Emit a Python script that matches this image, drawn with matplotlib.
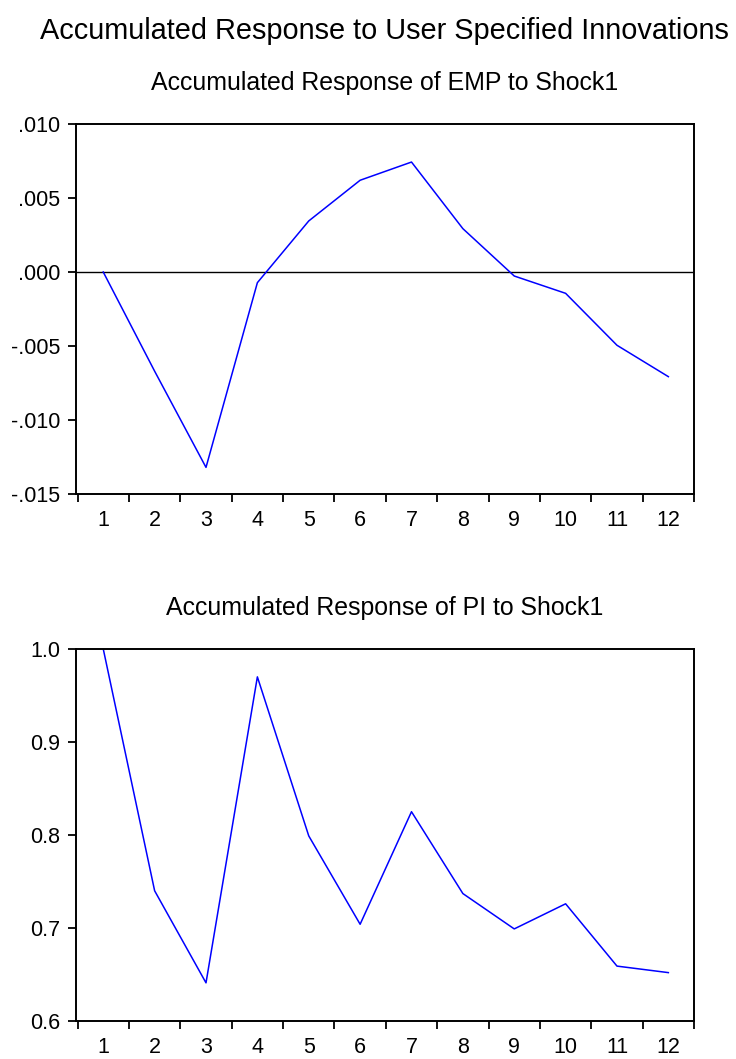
import matplotlib
matplotlib.use("Agg")
import matplotlib.pyplot as plt
from matplotlib.ticker import FixedLocator, NullFormatter

plt.rcParams['font.family'] = ['Liberation Sans', 'DejaVu Sans']

periods = list(range(1, 13))
period_labels = [str(p) for p in periods]
emp_response = [0.0, -0.0067, -0.0132, -0.00072, 0.00345, 0.0062,
                0.00743, 0.00293, -0.00027, -0.00144, -0.00495, -0.00707]
pi_response = [1.0, 0.740, 0.641, 0.970, 0.799, 0.704,
               0.825, 0.737, 0.699, 0.726, 0.659, 0.652]
emp_yticks = [-0.015, -0.010, -0.005, 0.000, 0.005, 0.010]
emp_yticklabels = ['-.015', '-.010', '-.005', '.000', '.005', '.010']
pi_yticks = [0.6, 0.7, 0.8, 0.9, 1.0]
pi_yticklabels = ['0.6', '0.7', '0.8', '0.9', '1.0']

main_title = "Accumulated Response to User Specified Innovations"
title_emp = "Accumulated Response of EMP to Shock1"
title_pi = "Accumulated Response of PI to Shock1"

fig = plt.figure(figsize=(7.36, 10.59), dpi=100)
fig.text(0.522, 1 - 39 / 1059, main_title, ha='center', va='baseline', fontsize=20.8)

ax1 = fig.add_axes([0.1033, 0.5335, 0.8397, 0.3494])
ax2 = fig.add_axes([0.1033, 0.0359, 0.8397, 0.3513])


def style(ax, y, yticks, yticklabels, ylim, title):
    ax.plot(periods, y, color='#0000ff', lw=1.1)
    ax.set_xlim(0.47, 12.5)
    ax.set_ylim(*ylim)
    ax.set_xticks(periods)
    ax.set_xticklabels(period_labels, fontsize=15.5)
    ax.xaxis.set_minor_locator(FixedLocator([p + 0.5 for p in [0] + periods]))
    ax.xaxis.set_minor_formatter(NullFormatter())
    ax.tick_params(axis='x', which='major', length=0, pad=11.5)
    ax.tick_params(axis='x', which='minor', length=5.5, width=1.3, direction='out')
    ax.set_yticks(yticks)
    ax.set_yticklabels(yticklabels, fontsize=15.5)
    ax.tick_params(axis='y', length=5.5, width=1.3, direction='out', pad=6)
    for s in ax.spines.values():
        s.set_linewidth(1.4)
    ax.set_title(title, fontsize=17.9, pad=24.5)


style(ax1, emp_response, emp_yticks, emp_yticklabels, (-0.015, 0.010), title_emp)
ax1.axhline(0, color='black', lw=1.0, zorder=1)
style(ax2, pi_response, pi_yticks, pi_yticklabels, (0.6, 1.0), title_pi)

fig.savefig('out.png', dpi=100)
